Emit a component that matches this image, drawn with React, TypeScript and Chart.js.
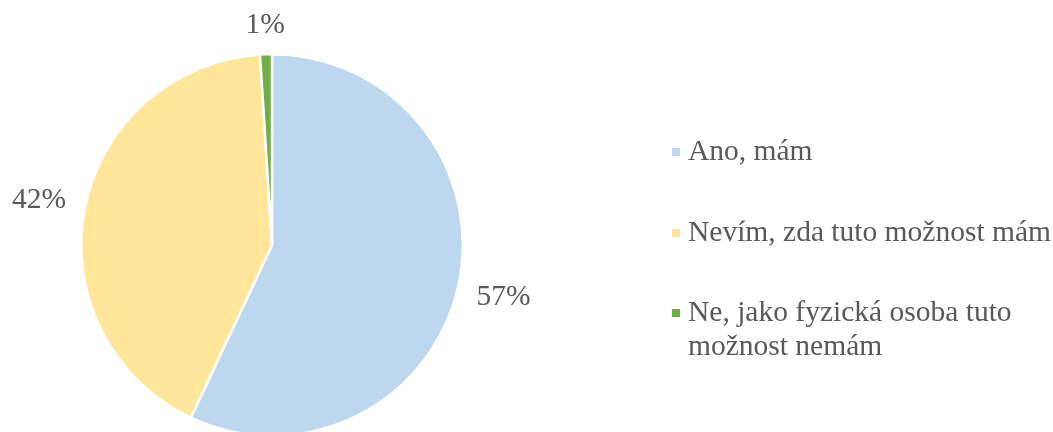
import React, { useEffect, useRef } from "react";
import { Chart, registerables } from "chart.js";

Chart.register(...registerables);

const categories = ["Ano, mám", "Nevím, zda tuto možnost mám", "Ne, jako fyzická osoba tuto možnost nemám"];
const values = [57, 42, 1];
const colors = ["#BDD7EE", "#FFE699", "#70AD47"];
const TEXT_COLOR = "#595959";
const FONT = "29.5px 'Liberation Serif', 'Times New Roman', serif";

const overlayPlugin = {
  id: "overlay",
  afterDraw(chart: any) {
    const ctx = chart.ctx;
    const meta = chart.getDatasetMeta(0);
    const total = values.reduce((a, b) => a + b, 0);
    ctx.save();
    ctx.font = FONT;
    ctx.fillStyle = TEXT_COLOR;
    ctx.textAlign = "center";
    ctx.textBaseline = "middle";
    meta.data.forEach((arc: any, i: number) => {
      const { x, y, startAngle, endAngle, outerRadius } = arc.getProps(
        ["x", "y", "startAngle", "endAngle", "outerRadius"],
        true
      );
      const mid = (startAngle + endAngle) / 2;
      const label = Math.round((values[i] / total) * 100) + "%";
      const w = ctx.measureText(label).width;
      const h = 20;
      const c = Math.cos(mid);
      const s = Math.sin(mid);
      const d = outerRadius + 18 + (w / 2) * Math.abs(c) + (h / 2) * Math.abs(s);
      ctx.fillText(label, x + c * d, y + s * d);
    });

    // legend
    const lx = 672;
    const tx = 688;
    const lineH = 34;
    const itemY = [152, 233, 313];
    ctx.textAlign = "left";
    categories.forEach((cat, i) => {
      ctx.fillStyle = colors[i];
      ctx.fillRect(lx, itemY[i] - 4, 8, 8);
      ctx.fillStyle = TEXT_COLOR;
      const words = cat.split(" ");
      const lines: string[] = [];
      let cur = "";
      words.forEach((wd) => {
        const test = cur ? cur + " " + wd : wd;
        if (ctx.measureText(test).width > 365 && cur) {
          lines.push(cur);
          cur = wd;
        } else cur = test;
      });
      if (cur) lines.push(cur);
      lines.forEach((ln, j) => ctx.fillText(ln, tx, itemY[i] + j * lineH));
    });
    ctx.restore();
  },
};

export default function App() {
  const ref = useRef<HTMLCanvasElement>(null);
  useEffect(() => {
    document.body.style.margin = "0";
    const chart = new Chart(ref.current!, {
      type: "pie",
      data: {
        labels: categories,
        datasets: [
          {
            data: values,
            backgroundColor: colors,
            borderColor: "#FFFFFF",
            borderWidth: 2.5,
          },
        ],
      },
      options: {
        animation: false,
        responsive: false,
        layout: { padding: { top: 53, bottom: 3, left: 80, right: 589 } },
        plugins: { legend: { display: false }, tooltip: { enabled: false } },
      },
      plugins: [overlayPlugin],
    });
    return () => chart.destroy();
  }, []);
  return (
    <div style={{ width: 1053, height: 432, overflow: "hidden", background: "#fff" }}>
      <canvas ref={ref} width={1053} height={440} style={{ display: "block" }} />
    </div>
  );
}
